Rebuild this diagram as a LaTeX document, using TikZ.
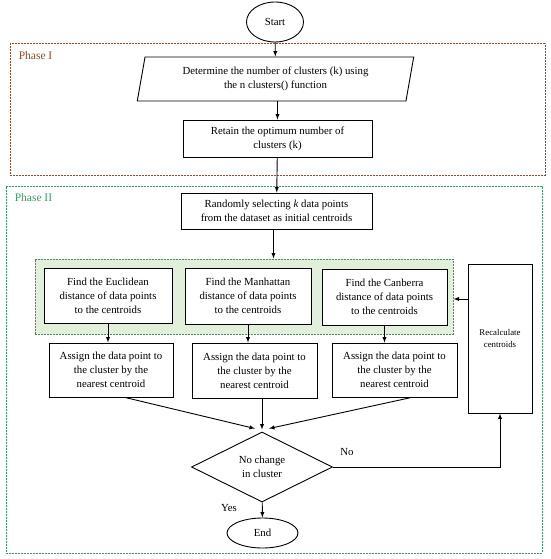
\documentclass[tikz,border=0pt]{standalone}
\usepackage{fontspec}
\setmainfont{Liberation Serif}
\usepackage{tikz}
\usetikzlibrary{shapes, arrows, calc}
\definecolor{phaseone}{HTML}{8E4A2A}
\definecolor{phasetwo}{HTML}{3E9A62}
\definecolor{groupfill}{HTML}{E2EFDA}
\definecolor{groupline}{HTML}{4A8A5A}
\tikzstyle{terminal} = [ellipse, draw, fill=white, inner sep=0pt]
\tikzstyle{inout} = [trapezium, trapezium left angle=77, trapezium right angle=103,
    trapezium stretches=true, draw, fill=white, align=center, inner sep=0pt,
    minimum width=277pt, minimum height=44pt]
\tikzstyle{process} = [rectangle, draw, fill=white, align=center, inner sep=0pt]
\tikzstyle{decision} = [diamond, draw, fill=white, align=center, inner sep=0pt,
    minimum width=141pt, minimum height=70pt]
\tikzstyle{phaseoneframe} = [rectangle, draw=phaseone, line width=1pt, dash pattern=on 2pt off 1pt]
\tikzstyle{phasetwoframe} = [rectangle, draw=phasetwo, line width=1pt, dash pattern=on 2pt off 1pt]
\tikzstyle{group} = [rectangle, draw=groupline, fill=groupfill, line width=1pt, dash pattern=on 2pt off 1pt]
\tikzstyle{line} = [draw, -latex]

\begin{document}
\begin{tikzpicture}[x=1pt, y=-1pt, line width=0.9pt,
    font=\fontsize{10.8}{14}\selectfont]
    \useasboundingbox (0,0) rectangle (550,559);
    % Frames
    \node [phaseoneframe, minimum width=535pt, minimum height=131pt] (phaseI) at (277.5,109.5) {};
    \node [phasetwoframe, minimum width=536pt, minimum height=367pt] (phaseII) at (274,369.5) {};
    \node [anchor=west, text=phaseone, font=\fontsize{11.5}{13}\selectfont] (labelI) at (15,56) {Phase I};
    \node [anchor=west, text=phasetwo, font=\fontsize{11.5}{13}\selectfont] (labelII) at (11,198) {Phase II};
    \node [group, minimum width=418pt, minimum height=75pt] (dist) at (244,296.5) {};

    % Nodes
    \node [terminal, minimum width=57pt, minimum height=40pt] (start) at (275,22) {Start};
    \node [inout] (nclust) at (275.5,79) {Determine the number of clusters (k) using\\the n clusters() function};
    \node [process, minimum width=189pt, minimum height=37pt] (retain) at (277.5,138.5) {Retain the optimum number of\\clusters (k)};
    \node [process, minimum width=191pt, minimum height=36pt] (random) at (276.5,211) {Randomly selecting \textit{k} data points\\from the dataset as initial centroids};
    \node [process, minimum width=128pt, minimum height=55pt] (euc) at (108,295.5) {Find the Euclidean\\distance of data points\\to the centroids};
    \node [process, minimum width=126pt, minimum height=56pt] (man) at (248,296) {Find the Manhattan\\distance of data points\\to the centroids};
    \node [process, minimum width=125pt, minimum height=56pt] (can) at (384.5,297) {Find the Canberra\\distance of data points\\to the centroids};
    \node [process, minimum width=64pt, minimum height=149pt, font=\fontsize{8.8}{12}\selectfont] (recalc) at (500,338.5) {Recalculate\\centroids};
    \node [process, minimum width=124pt, minimum height=54pt] (asgeuc) at (111,370) {Assign the data point to\\the cluster by the\\nearest centroid};
    \node [process, minimum width=125pt, minimum height=55pt] (asgman) at (254.5,370.5) {Assign the data point to\\the cluster by the\\nearest centroid};
    \node [process, minimum width=125pt, minimum height=54pt] (asgcan) at (394.5,370) {Assign the data point to\\the cluster by the\\nearest centroid};
    \node [decision] (nochange) at (262,467) {No change\\in cluster};
    \node [terminal, minimum width=71pt, minimum height=30pt] (end) at (262.5,533) {End};
    \node (nolabel) at (347,452) {No};
    \node (yeslabel) at (229,508) {Yes};

    % Edges
    \path [line] (start) -- (nclust);
    \path [line] (retain.north |- nclust.south) -- (retain.north);
    \path [line] (retain) -- (random);
    \path [line] ([xshift=-3pt]random.south) -- ([xshift=-3pt]random.south |- dist.north);
    \path [line] (euc.south) -- (euc.south |- asgeuc.north);
    \path [line] (man.south) -- (man.south |- asgman.north);
    \path [line] (can.south) -- (can.south |- asgcan.north);
    \path [line] ([xshift=14pt]asgeuc.south) -- ([xshift=-7pt, yshift=3pt]nochange.north);
    \path [line] (nochange.north |- asgman.south) -- ([yshift=2pt]nochange.north);
    \path [line] ([xshift=17pt]asgcan.south) -- ([xshift=7pt, yshift=3pt]nochange.north);
    \path [line] (nochange.east) -| (recalc.south);
    \path [line] ([yshift=-2pt]recalc.west |- can.east) -- ([yshift=-2pt]dist.east |- can.east);
    \path [line] (nochange) -- (end);


\end{tikzpicture}
\end{document}
